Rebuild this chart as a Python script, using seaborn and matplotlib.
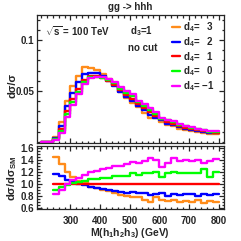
import numpy as np
import pandas as pd
import matplotlib
matplotlib.use("Agg")
import matplotlib.pyplot as plt
import seaborn as sns
from matplotlib.ticker import MultipleLocator

# lower edges of the 20 GeV bins in M(h1h2h3)
edges_top = [200, 220, 240, 260, 280, 300, 320, 340, 360, 380, 400, 420, 440, 460, 480,
             500, 520, 540, 560, 580, 600, 620, 640, 660, 680, 700, 720, 740, 760, 780]
edges_ratio = edges_top[2:]
m_end = 800

d4_labels = ["3", "2", "1", "0", "-1"]
colors = ["#ff8c1a", "#0000ff", "#ff0000", "#00ff00", "#ff00ff"]

# normalised distributions d(sigma)/sigma
dist_d4_3 = [0, 0, 0.0052, 0.0197, 0.040, 0.0553, 0.0648, 0.0739, 0.0721, 0.0706, 0.0667, 0.0621,
             0.056, 0.0492, 0.0433, 0.0385, 0.034, 0.0283, 0.0239, 0.0237, 0.0193, 0.0169, 0.0153,
             0.0132, 0.0119, 0.0105, 0.0099, 0.0085, 0.0082, 0.0074]
dist_d4_2 = [0, 0, 0.0039, 0.0157, 0.0357, 0.0481, 0.0584, 0.0664, 0.0681, 0.0674, 0.0644, 0.060,
             0.0548, 0.0493, 0.044, 0.0406, 0.0349, 0.0315, 0.0264, 0.0238, 0.0215, 0.018, 0.0166,
             0.0144, 0.013, 0.0119, 0.0104, 0.0098, 0.0088, 0.0084]
dist_d4_1 = [0, 0, 0.003, 0.0125, 0.030, 0.042, 0.052, 0.061, 0.0645, 0.0645, 0.063, 0.060,
             0.056, 0.051, 0.046, 0.042, 0.037, 0.033, 0.029, 0.0255, 0.0225, 0.020, 0.0178,
             0.0158, 0.0141, 0.0127, 0.0115, 0.0105, 0.0097, 0.009]
dist_d4_0 = [0, 0, 0.0025, 0.0109, 0.027, 0.0389, 0.0492, 0.0588, 0.0633, 0.0639, 0.063, 0.0605,
             0.0575, 0.0524, 0.0477, 0.0451, 0.039, 0.0357, 0.0314, 0.0278, 0.0229, 0.0216, 0.0194,
             0.0171, 0.0153, 0.0137, 0.0124, 0.0119, 0.0099, 0.0099]
dist_d4_m1 = [0, 0, 0.002, 0.0092, 0.0244, 0.0365, 0.0469, 0.057, 0.0629, 0.064, 0.064, 0.062,
              0.0592, 0.0543, 0.0497, 0.0468, 0.0406, 0.037, 0.0337, 0.029, 0.0236, 0.022, 0.0207,
              0.0177, 0.016, 0.0142, 0.0131, 0.0116, 0.0109, 0.0104]

# ratio to the SM (d4 = 1)
ratio_d4_3 = [1.46, 1.34, 1.20, 1.12, 1.06, 1.03, 0.95, 0.93, 0.90, 0.88, 0.85, 0.82, 0.80, 0.78,
              0.78, 0.73, 0.70, 0.79, 0.73, 0.72, 0.73, 0.71, 0.72, 0.70, 0.73, 0.69, 0.72, 0.70]
ratio_d4_2 = [1.17, 1.13, 1.07, 1.03, 1.01, 0.98, 0.95, 0.94, 0.92, 0.90, 0.88, 0.87, 0.86, 0.87,
              0.85, 0.86, 0.82, 0.84, 0.86, 0.81, 0.84, 0.82, 0.83, 0.84, 0.81, 0.84, 0.82, 0.84]
ratio_d4_1 = [1.0] * 28
ratio_d4_0 = [0.90, 0.96, 0.99, 1.02, 1.04, 1.06, 1.08, 1.09, 1.10, 1.11, 1.13, 1.13, 1.14, 1.18,
              1.16, 1.19, 1.19, 1.20, 1.12, 1.19, 1.20, 1.19, 1.19, 1.19, 1.19, 1.25, 1.12, 1.21]
ratio_d4_m1 = [0.84, 0.91, 1.00, 1.07, 1.11, 1.15, 1.20, 1.22, 1.25, 1.27, 1.30, 1.31, 1.33, 1.37,
               1.35, 1.38, 1.43, 1.40, 1.29, 1.35, 1.43, 1.38, 1.40, 1.38, 1.40, 1.36, 1.38, 1.42]


def long_frame(edges, series):
    rows = []
    for lab, vals in zip(d4_labels, series):
        xs = list(edges) + [m_end]
        ys = list(vals) + [vals[-1]]
        for x, y in zip(xs, ys):
            rows.append((x, y, lab))
    return pd.DataFrame(rows, columns=["M", "v", "d4"])


top_df = long_frame(edges_top, [dist_d4_3, dist_d4_2, dist_d4_1, dist_d4_0, dist_d4_m1])
rat_df = long_frame(edges_ratio, [ratio_d4_3, ratio_d4_2, ratio_d4_1, ratio_d4_0, ratio_d4_m1])

sns.set_style("ticks")
plt.rcParams["font.family"] = ["Liberation Sans", "DejaVu Sans"]
plt.rcParams["font.weight"] = "bold"
plt.rcParams["mathtext.fontset"] = "custom"
plt.rcParams["mathtext.rm"] = "Liberation Sans:bold"
plt.rcParams["mathtext.it"] = "Liberation Sans:bold"
plt.rcParams["mathtext.bf"] = "Liberation Sans:bold"
plt.rcParams["mathtext.default"] = "rm"

W = 241.0
fig = plt.figure(figsize=(2.41, 2.41), dpi=100)
ax1 = fig.add_axes([37 / W, 1 - 143 / W, 187 / W, 128 / W])
ax2 = fig.add_axes([37 / W, 1 - 209 / W, 187 / W, 63 / W])

for ax, df in [(ax1, top_df), (ax2, rat_df)]:
    sns.lineplot(data=df, x="M", y="v", hue="d4", hue_order=d4_labels, palette=colors,
                 drawstyle="steps-post", lw=1.7, estimator=None, sort=False,
                 legend=False, ax=ax)
    ax.set_xlim(187, 818)
    ax.set_xlabel("")
    ax.set_ylabel("")
    ax.set_xticks([300, 400, 500, 600, 700, 800])
    ax.xaxis.set_minor_locator(MultipleLocator(20))
    ax.tick_params(which="both", direction="in", top=True, right=True,
                   width=0.9, labelsize=7)
    ax.tick_params(which="major", length=3.5)
    ax.tick_params(which="minor", length=1.8)
    ax.tick_params(axis="x", pad=5)
    ax.tick_params(axis="y", pad=2)
    for s in ax.spines.values():
        s.set_linewidth(0.9)

ax1.set_ylim(-0.001, 0.1245)
ax1.set_yticks([0.05, 0.1])
ax1.set_yticklabels(["0.05", "0.1"])
ax1.yaxis.set_minor_locator(MultipleLocator(0.01))
ax1.tick_params(labelbottom=False)

ax2.set_ylim(0.585, 1.635)
ax2.set_yticks([0.6, 0.8, 1.0, 1.2, 1.4, 1.6])
ax2.set_yticklabels(["0.6", "0.8", "1.0", "1.2", "1.4", "1.6"])
ax2.yaxis.set_minor_locator(MultipleLocator(0.05))

leg_labels = ["d$_4$=   3", "d$_4$=   2", "d$_4$=   1", "d$_4$=   0", "d$_4$= \u22121"]
ax1.legend(ax1.lines[:5], leg_labels, loc="upper right", bbox_to_anchor=(0.975, 1.0),
           frameon=False, fontsize=7, handlelength=0.8, handletextpad=0.3,
           labelspacing=0.1, borderaxespad=0.15)

ax1.text(0.043, 0.875, r"$\sqrt{s}$ = 100 TeV", transform=ax1.transAxes,
         fontsize=7, va="center", ha="left")
ax1.text(0.497, 0.875, "d$_3$=1", transform=ax1.transAxes, fontsize=7, va="center")
ax1.text(0.487, 0.742, "no cut", transform=ax1.transAxes, fontsize=7, va="center")

fig.text(130 / W, 1 - 7 / W, "gg -> hhh", ha="center", va="center", fontsize=7)
fig.text(12 / W, 1 - 85 / W, "d\u03c3/\u03c3", rotation=90, ha="center", va="center", fontsize=8)
fig.text(12 / W, 1 - 178 / W, "d\u03c3/d\u03c3$_{SM}$", rotation=90, ha="center", va="center",
         fontsize=8)
fig.text(130 / W, 1 - 233 / W, "M(h$_1$h$_2$h$_3$) (GeV)", ha="center", va="center", fontsize=7.5)

fig.savefig("out.png", dpi=100)
